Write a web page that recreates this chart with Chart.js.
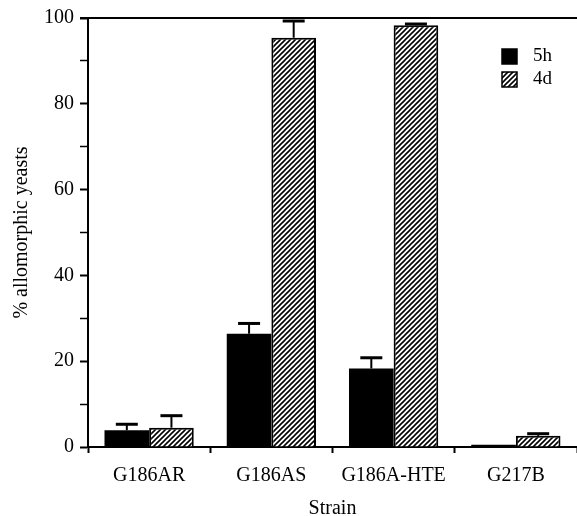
<!DOCTYPE html>
<html>
<head>
<meta charset="utf-8">
<script src="https://cdn.jsdelivr.net/npm/chart.js@4.4.1/dist/chart.umd.min.js"></script>
<style>
  html, body { margin: 0; padding: 0; background: #fff; }
  #wrap { width: 577px; height: 516px; }
</style>
</head>
<body>
<div id="wrap"><canvas id="chart" width="577" height="516"></canvas></div>
<script>
// data
const strains = ['G186AR', 'G186AS', 'G186A-HTE', 'G217B'];
const values5h = [3.9, 26.4, 18.3, 0.5];
const errors5h = [1.4, 2.4, 2.5, 0];
const values4d = [4.5, 95.4, 98.3, 2.6];
const errors4d = [2.8, 3.9, 0.3, 0.5];
const seriesNames = ['5h', '4d'];
const yTicks = [0, 20, 40, 60, 80, 100];

Chart.defaults.font.family = '"Liberation Serif", "DejaVu Serif", serif';
Chart.defaults.font.size = 20;
Chart.defaults.color = '#000';

const canvas = document.getElementById('chart');
const ctx = canvas.getContext('2d');

// diagonal hatch fill
function makeHatch() {
  const s = 5;
  const c = document.createElement('canvas');
  c.width = s; c.height = s;
  const g = c.getContext('2d');
  g.fillStyle = '#fff';
  g.fillRect(0, 0, s, s);
  g.strokeStyle = '#000';
  g.lineWidth = 1.6;
  g.beginPath();
  g.moveTo(0, s); g.lineTo(s, 0);
  g.moveTo(-s / 2, s / 2); g.lineTo(s / 2, -s / 2);
  g.moveTo(s / 2, s * 1.5); g.lineTo(s * 1.5, s / 2);
  g.stroke();
  return ctx.createPattern(c, 'repeat');
}
const hatch = makeHatch();

// one-sided error bars
const errorBarPlugin = {
  id: 'errorBars',
  afterDatasetsDraw(chart) {
    const { ctx, scales: { y } } = chart;
    chart.data.datasets.forEach((ds, i) => {
      const meta = chart.getDatasetMeta(i);
      meta.data.forEach((bar, j) => {
        const err = ds.errors[j];
        if (!err) return;
        const top = y.getPixelForValue(ds.data[j] + err);
        ctx.save();
        ctx.strokeStyle = '#000';
        ctx.lineWidth = 2;
        ctx.beginPath();
        ctx.moveTo(bar.x, bar.y);
        ctx.lineTo(bar.x, top);
        ctx.stroke();
        ctx.lineWidth = 3;
        ctx.beginPath();
        ctx.moveTo(bar.x - 11, top);
        ctx.lineTo(bar.x + 11, top);
        ctx.stroke();
        ctx.restore();
      });
    });
  }
};

// top frame line + legend box
const framePlugin = {
  id: 'frameAndLegend',
  afterDraw(chart) {
    const { ctx, chartArea } = chart;
    ctx.save();
    ctx.strokeStyle = '#000';
    ctx.lineWidth = 2;
    ctx.beginPath();
    ctx.moveTo(chartArea.left - 8, chartArea.top);
    ctx.lineTo(chartArea.right, chartArea.top);
    ctx.stroke();

    const lx = chartArea.right - 75;
    let ly = chartArea.top + 31;
    chart.data.datasets.forEach((ds) => {
      ctx.fillStyle = ds.backgroundColor;
      ctx.fillRect(lx, ly, 15, 15);
      ctx.lineWidth = 1.5;
      ctx.strokeRect(lx, ly, 15, 15);
      ctx.fillStyle = '#000';
      ctx.font = '19px "Liberation Serif", serif';
      ctx.textBaseline = 'middle';
      ctx.textAlign = 'left';
      ctx.fillText(ds.label, lx + 31, ly + 7);
      ly += 23;
    });
    ctx.restore();
  }
};

new Chart(ctx, {
  type: 'bar',
  data: {
    labels: strains,
    datasets: [
      { label: seriesNames[0], data: values5h, errors: errors5h, backgroundColor: '#000', borderColor: '#000', borderWidth: 0 },
      { label: seriesNames[1], data: values4d, errors: errors4d, backgroundColor: hatch, borderColor: '#000', borderWidth: 2 }
    ]
  },
  options: {
    responsive: false,
    animation: false,
    layout: { padding: { top: 16, right: 0, left: 0, bottom: 0 } },
    plugins: {
      legend: { display: false },
      tooltip: { enabled: false }
    },
    datasets: {
      bar: { categoryPercentage: 0.73, barPercentage: 1.0 }
    },
    scales: {
      x: {
        grid: { drawOnChartArea: false, tickLength: 6, tickColor: '#000', tickWidth: 2, offset: true },
        border: { display: true, color: '#000', width: 2 },
        ticks: { padding: 11, maxRotation: 0, font: { size: 20 } },
        title: { display: true, text: 'Strain', font: { size: 20 }, padding: { top: 0, bottom: -5 } },
        afterFit(scale) { scale.height = 69; }
      },
      y: {
        min: 0,
        max: 100,
        grid: {
          drawOnChartArea: false,
          tickLength: 8,
          tickColor: '#000',
          tickWidth: (c) => (c.tick && yTicks.includes(c.tick.value) ? 2 : 1.5)
        },
        border: { display: true, color: '#000', width: 2 },
        ticks: {
          stepSize: 10,
          padding: 6,
          font: { size: 20 },
          callback: (v) => (yTicks.includes(v) ? v : '')
        },
        title: { display: true, text: '% allomorphic yeasts', font: { size: 20 }, padding: { top: 10, bottom: 0 } },
        afterFit(scale) { scale.width = 88; }
      }
    }
  },
  plugins: [errorBarPlugin, framePlugin]
});
</script>
</body>
</html>
